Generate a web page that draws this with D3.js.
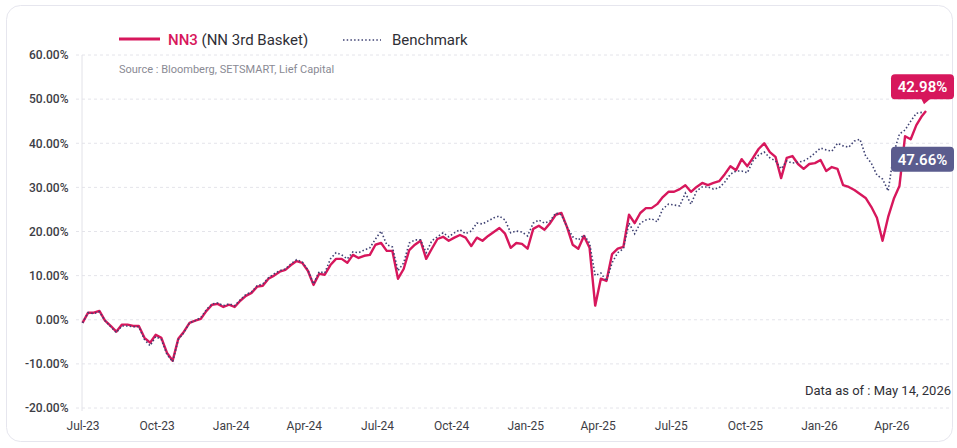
<!DOCTYPE html>
<html>
<head>
<meta charset="utf-8">
<script src="https://cdn.jsdelivr.net/npm/d3@7"></script>
<style>
  body { margin: 0; background: #ffffff; font-family: Roboto, "Noto Sans", sans-serif; }
  svg text { font-family: Roboto, "Noto Sans", sans-serif; }
</style>
</head>
<body>
<div id="chart"></div>
<script>
// weekly sample dates (last point is the "data as of" date)
const dates = [
  "2023-07-01","2023-07-08","2023-07-15","2023-07-22","2023-07-29","2023-08-05","2023-08-12","2023-08-19","2023-08-26",
  "2023-09-02","2023-09-09","2023-09-16","2023-09-23","2023-09-30","2023-10-07","2023-10-14","2023-10-21","2023-10-28",
  "2023-11-04","2023-11-11","2023-11-18","2023-11-25","2023-12-02","2023-12-09","2023-12-16","2023-12-23","2023-12-30",
  "2024-01-06","2024-01-13","2024-01-20","2024-01-27","2024-02-03","2024-02-10","2024-02-17","2024-02-24",
  "2024-03-02","2024-03-09","2024-03-16","2024-03-23","2024-03-30","2024-04-06","2024-04-13","2024-04-20","2024-04-27",
  "2024-05-04","2024-05-11","2024-05-18","2024-05-25","2024-06-01","2024-06-08","2024-06-15","2024-06-22","2024-06-29",
  "2024-07-06","2024-07-13","2024-07-20","2024-07-27","2024-08-03","2024-08-10","2024-08-17","2024-08-24","2024-08-31",
  "2024-09-07","2024-09-14","2024-09-21","2024-09-28","2024-10-05","2024-10-12","2024-10-19","2024-10-26",
  "2024-11-02","2024-11-09","2024-11-16","2024-11-23","2024-11-30","2024-12-07","2024-12-14","2024-12-21","2024-12-28",
  "2025-01-04","2025-01-11","2025-01-18","2025-01-25","2025-02-01","2025-02-08","2025-02-15","2025-02-22",
  "2025-03-01","2025-03-08","2025-03-15","2025-03-22","2025-03-29","2025-04-05","2025-04-12","2025-04-19","2025-04-26",
  "2025-05-03","2025-05-10","2025-05-17","2025-05-24","2025-05-31","2025-06-07","2025-06-14","2025-06-21","2025-06-28",
  "2025-07-05","2025-07-12","2025-07-19","2025-07-26","2025-08-02","2025-08-09","2025-08-16","2025-08-23","2025-08-30",
  "2025-09-06","2025-09-13","2025-09-20","2025-09-27","2025-10-04","2025-10-11","2025-10-18","2025-10-25",
  "2025-11-01","2025-11-08","2025-11-15","2025-11-22","2025-11-29","2025-12-06","2025-12-13","2025-12-20","2025-12-27",
  "2026-01-03","2026-01-10","2026-01-17","2026-01-24","2026-01-31","2026-02-07","2026-02-14","2026-02-21","2026-02-28",
  "2026-03-07","2026-03-14","2026-03-21","2026-03-28","2026-04-04","2026-04-11","2026-04-18","2026-04-25",
  "2026-05-02","2026-05-09","2026-05-14"
];

// NN3 (NN 3rd Basket) cumulative return, %
const nn3Values = [
  -0.7, 1.6, 1.6, 2.0, -0.2, -1.4, -2.7, -1.1, -1.1, -1.4, -1.4, -4.1, -5.2, -3.4, -4.1, -7.5, -9.3, -4.3,
  -2.7, -0.7, -0.2, 0.2, 2.0, 3.4, 3.6, 2.9, 3.4,
  2.9, 4.3, 5.4, 6.1, 7.5, 7.7, 9.3, 10.0, 10.9, 11.3, 12.4, 13.3, 12.9, 11.1, 7.9, 10.4, 10.2,
  12.4, 13.8, 13.8, 12.9, 14.7, 14.0, 14.5, 14.7, 17.0, 17.4, 15.6, 15.6, 9.3, 11.5, 15.8, 17.0, 17.9, 13.8,
  16.1, 18.3, 18.8, 17.9, 18.6, 19.2, 18.6, 16.7, 18.6, 17.9, 19.0, 19.9, 20.8, 19.5, 16.3, 17.4, 17.2,
  16.1, 20.6, 21.3, 20.4, 21.9, 23.8, 24.2, 21.0, 17.0, 16.1, 19.0, 16.3, 3.2, 9.3, 8.8, 14.9, 16.1,
  16.5, 23.8, 21.9, 24.2, 25.3, 25.3, 26.2, 27.8, 29.0, 29.0, 29.6, 30.5, 29.0, 30.1, 31.0, 30.5, 31.0,
  31.4, 33.0, 34.8, 33.9, 36.4, 34.8, 36.7, 38.7, 40.0, 38.0, 36.9, 32.1, 36.7, 37.1, 35.3, 34.2, 35.3, 35.5,
  36.2, 33.7, 34.6, 34.2, 30.5, 30.1, 29.4, 28.5, 27.6, 25.6, 23.1, 17.9, 23.3, 27.4, 30.3, 41.6, 40.9, 44.1,
  46.2, 47.3
];

// Benchmark cumulative return, %
const benchValues = [
  -0.7, 1.6, 1.4, 1.8, -0.2, -1.6, -2.9, -1.4, -1.4, -1.6, -1.6, -4.5, -5.9, -3.8, -4.5, -7.9, -9.5, -4.5,
  -2.9, -0.7, -0.2, 0.5, 2.3, 3.6, 3.8, 3.2, 3.6,
  3.2, 4.5, 5.7, 6.3, 7.7, 8.1, 9.5, 10.4, 11.1, 11.5, 12.7, 13.6, 13.1, 11.3, 8.1, 10.9, 10.6,
  13.8, 15.2, 14.7, 13.8, 15.4, 15.2, 15.8, 16.3, 18.3, 20.1, 17.0, 16.5, 11.1, 12.9, 17.4, 18.1, 18.1, 15.2,
  17.9, 18.8, 19.7, 18.8, 19.7, 20.4, 19.5, 20.1, 21.9, 21.7, 22.4, 23.1, 23.5, 22.6, 19.7, 20.1, 19.9,
  19.0, 21.9, 22.6, 21.9, 22.4, 24.2, 23.8, 21.0, 18.8, 18.1, 19.2, 17.4, 10.0, 10.6, 8.8, 12.9, 15.2,
  16.1, 21.9, 19.5, 21.9, 22.6, 22.9, 22.2, 25.1, 26.2, 26.0, 25.8, 28.7, 26.2, 29.2, 30.1, 30.1, 29.6,
  29.9, 31.2, 33.0, 33.7, 33.7, 33.3, 36.0, 37.3, 38.0, 36.7, 36.0, 34.2, 36.0, 35.5, 35.7, 36.0, 36.7, 37.8,
  38.9, 38.5, 38.2, 40.0, 39.4, 39.1, 40.5, 40.9, 37.1, 35.5, 32.8, 31.9, 29.2, 37.8, 42.1, 43.0, 45.0, 46.8,
  47.0, null
];

const yTicks = [-20, -10, 0, 10, 20, 30, 40, 50, 60];
const seriesNames = ["NN3", "(NN 3rd Basket)", "Benchmark"];
const endLabels = ["42.98%", "47.66%"];
const sourceText = "Source : Bloomberg, SETSMART, Lief Capital";
const asOfText = "Data as of : May 14, 2026";

//define positional parameters
let svgWidth = 957;
let svgHeight = 448;
let plotLeft = 82.5;
let plotRight = 926;
let plotTop = 55;
let plotBottom = 408;
let gridLeft = 76;
let gridRight = 950;

let red = "#d7175c";
let slate = "#3f4273";
let slateBox = "#5b5c8e";

let parse = d3.timeParse("%Y-%m-%d");
let data = dates.map(function(d, i) {
  return { date: parse(d), nn3: nn3Values[i], bench: benchValues[i] };
});

//create svg
let svg = d3.select("#chart")
  .append("svg")
  .attr("width", svgWidth)
  .attr("height", svgHeight);

//card background
svg.append("rect")
  .attr("x", 6.5).attr("y", 5.5)
  .attr("width", 946).attr("height", 436)
  .attr("rx", 14)
  .attr("fill", "#ffffff")
  .attr("stroke", "#e6e6ee");

//define scales
let xScale = d3.scaleTime()
  .domain([parse("2023-07-01"), parse("2026-05-14")])
  .range([plotLeft, plotRight]);

let yScale = d3.scaleLinear()
  .domain([-20, 60])
  .range([plotBottom, plotTop]);

//gridlines
svg.append("g")
  .selectAll("line")
  .data(yTicks)
  .join("line")
  .attr("x1", gridLeft).attr("x2", gridRight)
  .attr("y1", d => yScale(d)).attr("y2", d => yScale(d))
  .attr("stroke", "#e4e4ea")
  .attr("stroke-width", 1)
  .attr("stroke-dasharray", "3,3");

//y axis line
svg.append("line")
  .attr("x1", plotLeft - 0.5).attr("x2", plotLeft - 0.5)
  .attr("y1", plotTop).attr("y2", plotBottom + 3)
  .attr("stroke", "#e2e2e8");

//y axis labels
let yAxis = d3.axisLeft(yScale)
  .tickValues(yTicks)
  .tickSize(0)
  .tickPadding(14)
  .tickFormat(d => d.toFixed(2) + "%");

let yAxisGroup = svg.append("g")
  .attr("transform", `translate(${plotLeft},0)`)
  .call(yAxis);
yAxisGroup.select(".domain").remove();
yAxisGroup.selectAll("text")
  .attr("font-size", 12)
  .attr("font-weight", 500)
  .attr("fill", "#3d3d45");

//x axis labels
let xAxis = d3.axisBottom(xScale)
  .ticks(d3.timeMonth.every(3))
  .tickSize(0)
  .tickPadding(13)
  .tickFormat(d3.timeFormat("%b-%y"));

let xAxisGroup = svg.append("g")
  .attr("transform", `translate(0,${plotBottom})`)
  .call(xAxis);
xAxisGroup.select(".domain").remove();
xAxisGroup.selectAll("text")
  .attr("font-size", 12)
  .attr("fill", "#3d3d45");

//define lines
let nn3Line = d3.line()
  .defined(d => d.nn3 != null)
  .x(d => xScale(d.date))
  .y(d => yScale(d.nn3));

let benchLine = d3.line()
  .defined(d => d.bench != null)
  .x(d => xScale(d.date))
  .y(d => yScale(d.bench));

//plot NN3
svg.append("path")
  .datum(data)
  .attr("fill", "none")
  .attr("stroke", red)
  .attr("stroke-width", 2.4)
  .attr("stroke-linejoin", "round")
  .attr("d", nn3Line);

//plot benchmark (dotted, on top)
svg.append("path")
  .datum(data)
  .attr("fill", "none")
  .attr("stroke", slate)
  .attr("stroke-width", 1.6)
  .attr("stroke-dasharray", "1.5,2.2")
  .attr("d", benchLine);

//legend
let legend = svg.append("g");
legend.append("line")
  .attr("x1", 119).attr("x2", 160)
  .attr("y1", 39).attr("y2", 39)
  .attr("stroke", red).attr("stroke-width", 3);

let legendText = legend.append("text")
  .attr("x", 168).attr("y", 45)
  .attr("font-size", 15)
  .attr("fill", "#2f2f36");
legendText.append("tspan").attr("fill", red).attr("font-weight", 500).text(seriesNames[0]);
legendText.append("tspan").text(" " + seriesNames[1]);

legend.append("line")
  .attr("x1", 343).attr("x2", 381)
  .attr("y1", 40).attr("y2", 40)
  .attr("stroke", slate).attr("stroke-width", 1.6)
  .attr("stroke-dasharray", "1.5,2.2");

legend.append("text")
  .attr("x", 392).attr("y", 45)
  .attr("font-size", 15)
  .attr("fill", "#2f2f36")
  .text(seriesNames[2]);

//source note
svg.append("text")
  .attr("x", 119).attr("y", 73)
  .attr("font-size", 11)
  .attr("fill", "#8a8a94")
  .text(sourceText);

//data-as-of note
svg.append("text")
  .attr("x", 951).attr("y", 395)
  .attr("text-anchor", "end")
  .attr("font-size", 13)
  .attr("fill", "#2f2f36")
  .text(asOfText);

//end-value label boxes
let boxX = 891;
let boxW = 63;
let boxH = 25;

let redBoxY = yScale(52.8) - boxH / 2;
svg.append("rect")
  .attr("x", boxX).attr("y", redBoxY)
  .attr("width", boxW).attr("height", boxH)
  .attr("rx", 4)
  .attr("fill", red);
svg.append("path")
  .attr("d", `M${boxX + 30},${redBoxY + boxH - 1} L${boxX + 40},${redBoxY + boxH - 1} L${boxX + 33},${redBoxY + boxH + 5} Z`)
  .attr("fill", red);
svg.append("text")
  .attr("x", boxX + boxW / 2).attr("y", redBoxY + boxH / 2 + 5.5)
  .attr("text-anchor", "middle")
  .attr("font-size", 15)
  .attr("font-weight", 600)
  .attr("fill", "#ffffff")
  .text(endLabels[0]);

let slateBoxY = yScale(36.4) - boxH / 2;
svg.append("rect")
  .attr("x", boxX).attr("y", slateBoxY)
  .attr("width", boxW).attr("height", boxH)
  .attr("rx", 4)
  .attr("fill", slateBox);
svg.append("text")
  .attr("x", boxX + boxW / 2).attr("y", slateBoxY + boxH / 2 + 5.5)
  .attr("text-anchor", "middle")
  .attr("font-size", 15)
  .attr("font-weight", 600)
  .attr("fill", "#ffffff")
  .text(endLabels[1]);
</script>
</body>
</html>
